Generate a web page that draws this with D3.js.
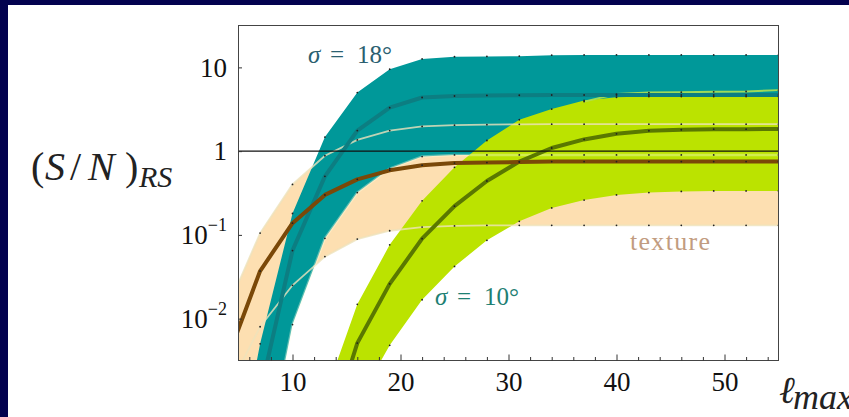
<!DOCTYPE html>
<html>
<head>
<meta charset="utf-8">
<script src="https://cdn.jsdelivr.net/npm/d3@7"></script>
<style>
  body { margin: 0; background: #fff; overflow: hidden; }
  svg { display: block; }
</style>
</head>
<body>
<svg id="chart" width="849" height="417"></svg>
<script>
// sample points of l_max
const lmax = [4, 7, 10, 13, 16, 19, 22, 25, 28, 31, 34, 37, 40, 43, 46, 49, 52, 55];

// texture band (fill edges) and its thin light edge lines
const textureUpper = [0.0135, 0.105, 0.40, 0.88, 1.36, 1.76, 1.97, 2.04, 2.07, 2.09, 2.1, 2.1, 2.1, 2.1, 2.1, 2.1, 2.1, 2.1];
const textureMid   = [0.0034, 0.037, 0.138, 0.30, 0.46, 0.59, 0.68, 0.72, 0.73, 0.74, 0.75, 0.75, 0.75, 0.75, 0.75, 0.75, 0.75, 0.75];
const textureLower = [0.0001, 0.0015, 0.025, 0.055, 0.089, 0.112, 0.124, 0.128, 0.13, 0.13, 0.13, 0.13, 0.13, 0.13, 0.13, 0.13, 0.13, 0.13];
const textureThin  = [0.0014, 0.008, 0.025, 0.055, 0.089, 0.112, 0.124, 0.128, 0.13, 0.13, 0.13, 0.13, 0.13, 0.13, 0.13, 0.13, 0.13, 0.13];

// sigma = 18 deg band
const sig18Upper = [0.00005, 0.005, 0.18, 1.47, 5.0, 9.5, 12.6, 13.4, 13.5, 13.6, 14.0, 14.1, 14.1, 14.1, 14.1, 14.1, 14.1, 14.1];
const sig18Mid   = [0.00001, 0.0013, 0.065, 0.50, 1.76, 3.3, 4.37, 4.55, 4.62, 4.65, 4.68, 4.68, 4.68, 4.68, 4.68, 4.68, 4.68, 4.68];
const sig18Lower = [0.000001, 0.0001, 0.0085, 0.091, 0.32, 0.62, 0.86, 0.9, 0.9, 0.9, 0.9, 0.9, 0.9, 0.9, 0.9, 0.9, 0.9, 0.9];

// sigma = 10 deg band
const sig10Upper = [1e-8, 1e-6, 0.00005, 0.0012, 0.0148, 0.076, 0.255, 0.64, 1.34, 2.37, 3.18, 4.03, 4.4, 4.48, 4.48, 4.48, 4.48, 4.48];
const sig10Mid   = [1e-9, 1e-7, 0.00001, 0.0003, 0.0051, 0.026, 0.09, 0.22, 0.44, 0.75, 1.09, 1.38, 1.61, 1.75, 1.8, 1.83, 1.83, 1.84];
const sig10Lower = [1e-10, 1e-8, 1e-6, 0.0001, 0.001, 0.0048, 0.0168, 0.042, 0.086, 0.145, 0.21, 0.26, 0.30, 0.32, 0.33, 0.335, 0.335, 0.335];
const sig10Thin  = [null, null, null, null, null, null, null, null, null, null, null, 3.9, 4.8, 5.0, 5.05, 5.1, 5.15, 5.35];

const xDomain = [5, 55];
const yDomain = [Math.pow(10, -2.5), Math.pow(10, 1.5)];
const xMajorTicks = [10, 20, 30, 40, 50];
const xMinorTicks = [6, 8, 12, 14, 16, 18, 22, 24, 26, 28, 32, 34, 36, 38, 42, 44, 46, 48, 52, 54];
const yTicks = [0.01, 0.1, 1, 10];
const yTickBase = ['10', '10', '1', '10'];
const yTickExp = ['\u22122', '\u22121', '', ''];

const W = 849, H = 417;
const plot = { left: 238.5, top: 25.5, right: 778.5, bottom: 360.5 };
const serif = '"Liberation Serif", "DejaVu Serif", serif';

const svg = d3.select('#chart');

// slide frame
svg.append('rect').attr('width', W).attr('height', H).attr('fill', '#fff');
svg.append('rect').attr('width', W).attr('height', 5).attr('fill', '#03024f');
svg.append('rect').attr('width', 8).attr('height', H).attr('fill', '#03024f');

const x = d3.scaleLinear().domain(xDomain).range([plot.left, plot.right]);
const y = d3.scaleLog().domain(yDomain).range([plot.bottom, plot.top]);

svg.append('defs').append('clipPath').attr('id', 'plot-clip')
  .append('rect')
  .attr('x', plot.left).attr('y', plot.top)
  .attr('width', plot.right - plot.left).attr('height', plot.bottom - plot.top);

const g = svg.append('g').attr('clip-path', 'url(#plot-clip)');

const band = (lo, hi) => d3.area()
  .x((d, i) => x(lmax[i]))
  .y0((d, i) => y(lo[i]))
  .y1((d, i) => y(hi[i]));

const curve = vals => d3.line()
  .defined((d, i) => vals[i] != null)
  .x((d, i) => x(lmax[i]))
  .y((d, i) => y(vals[i]));

// Bands
g.append('path').datum(lmax).attr('fill', '#fddfb1').attr('d', band(textureLower, textureUpper));
g.append('path').datum(lmax).attr('fill', '#009899').attr('d', band(sig18Lower, sig18Upper));
g.append('path').datum(lmax).attr('fill', '#bbe300').attr('d', band(sig10Lower, sig10Upper));

// Thin light lines
const thin = [
  { vals: textureUpper, color: 'rgba(238,226,188,0.8)', w: 1.8 },
  { vals: textureThin, color: 'rgba(238,226,188,0.8)', w: 1.8 },
  { vals: sig18Lower, color: 'rgba(255,255,225,0.35)', w: 2.5 },
  { vals: sig10Thin, color: 'rgba(175,225,80,0.9)', w: 2 }
];
thin.forEach(s => {
  g.append('path').datum(lmax)
    .attr('fill', 'none')
    .attr('stroke', s.color)
    .attr('stroke-width', s.w)
    .attr('d', curve(s.vals));
});

// Median lines
const medians = [
  { vals: sig18Mid, color: '#0c7e82' },
  { vals: sig10Mid, color: '#5a7800' },
  { vals: textureMid, color: '#7a4808' }
];
medians.forEach(s => {
  g.append('path').datum(lmax)
    .attr('fill', 'none')
    .attr('stroke', s.color)
    .attr('stroke-width', 4)
    .attr('stroke-linejoin', 'round')
    .attr('d', curve(s.vals));
});

// S/N = 1
g.append('line')
  .attr('x1', plot.left).attr('x2', plot.right)
  .attr('y1', y(1)).attr('y2', y(1))
  .attr('stroke', '#111').attr('stroke-width', 1.4);

// Sample points
const allCurves = [textureUpper, textureMid, textureThin, sig18Upper, sig18Mid, sig18Lower,
  sig10Upper, sig10Mid, sig10Lower, sig10Thin];
allCurves.forEach(vals => {
  const pts = lmax.map((l, i) => ({ l, v: vals[i] }))
    .filter(p => p.v != null && p.l >= xDomain[0] && p.v >= yDomain[0] && p.v <= yDomain[1]);
  g.selectAll(null).data(pts).join('circle')
    .attr('cx', p => x(p.l))
    .attr('cy', p => y(p.v))
    .attr('r', 0.9)
    .attr('fill', '#222');
});

// Frame
svg.append('rect')
  .attr('x', plot.left).attr('y', plot.top)
  .attr('width', plot.right - plot.left).attr('height', plot.bottom - plot.top)
  .attr('fill', 'none').attr('stroke', '#444').attr('stroke-width', 1);

// X axis
const xAxis = svg.append('g')
  .attr('transform', `translate(0,${plot.bottom})`)
  .call(d3.axisBottom(x).tickValues(xMajorTicks).tickSize(-6).tickPadding(11));
xAxis.select('.domain').remove();
xAxis.selectAll('.tick line').attr('stroke', '#333');
xAxis.attr('font-family', serif).attr('font-size', 27);
xAxis.selectAll('.tick text').attr('fill', '#111');

const xMinor = svg.append('g')
  .attr('transform', `translate(0,${plot.bottom})`)
  .call(d3.axisBottom(x).tickValues(xMinorTicks).tickSize(-3.5).tickFormat(''));
xMinor.select('.domain').remove();
xMinor.selectAll('.tick line').attr('stroke', '#333');

// Y axis
const yAxis = svg.append('g')
  .attr('transform', `translate(${plot.left},0)`)
  .call(d3.axisLeft(y).tickValues(yTicks).tickSize(-3.5).tickPadding(11.5).tickFormat(''));
yAxis.select('.domain').remove();
yAxis.selectAll('.tick line').attr('stroke', '#333');
yAxis.attr('font-family', serif).attr('font-size', 27);
yAxis.selectAll('.tick text').attr('fill', '#111').each(function (d, i) {
  const t = d3.select(this);
  t.append('tspan').text(yTickBase[i]);
  if (yTickExp[i]) {
    t.append('tspan').attr('font-size', 18).attr('dy', -13).text(yTickExp[i]);
  }
});

// Axis titles
const yTitle = svg.append('text')
  .attr('font-family', serif).attr('font-size', 40).attr('fill', '#222')
  .attr('y', 180);
[['(', 31, 'normal'], ['S', 45, 'italic'], ['/', 70, 'normal'], ['N', 88, 'italic'], [')', 125, 'normal']]
  .forEach(([ch, px, st]) => yTitle.append('tspan').attr('x', px).attr('font-style', st).text(ch));
svg.append('text')
  .attr('font-family', serif).attr('font-size', 30).attr('font-style', 'italic').attr('fill', '#222')
  .attr('x', 139).attr('y', 187).text('RS');

svg.append('text')
  .attr('font-family', serif).attr('font-size', 38).attr('font-style', 'italic').attr('fill', '#222')
  .attr('x', 779).attr('y', 403).text('\u2113');
svg.append('text')
  .attr('font-family', serif).attr('font-size', 36).attr('font-style', 'italic').attr('fill', '#222')
  .attr('x', 793).attr('y', 409).text('max');

// Annotations
function sigmaLabel(x0, yb, value, color) {
  const t = svg.append('text').attr('font-family', serif).attr('font-size', 25).attr('fill', color).attr('y', yb);
  t.append('tspan').attr('x', x0).attr('font-style', 'italic').text('\u03c3');
  t.append('tspan').attr('x', x0 + 22).text('=');
  t.append('tspan').attr('x', x0 + 49).text(value + '\u00b0');
}
sigmaLabel(308, 63, '18', '#2b5f70');
sigmaLabel(435, 305, '10', '#1e8073');

svg.append('text')
  .attr('font-family', serif).attr('font-size', 26).attr('fill', '#c29c80')
  .attr('x', 630).attr('y', 250).attr('textLength', 80).text('texture');
</script>
</body>
</html>
